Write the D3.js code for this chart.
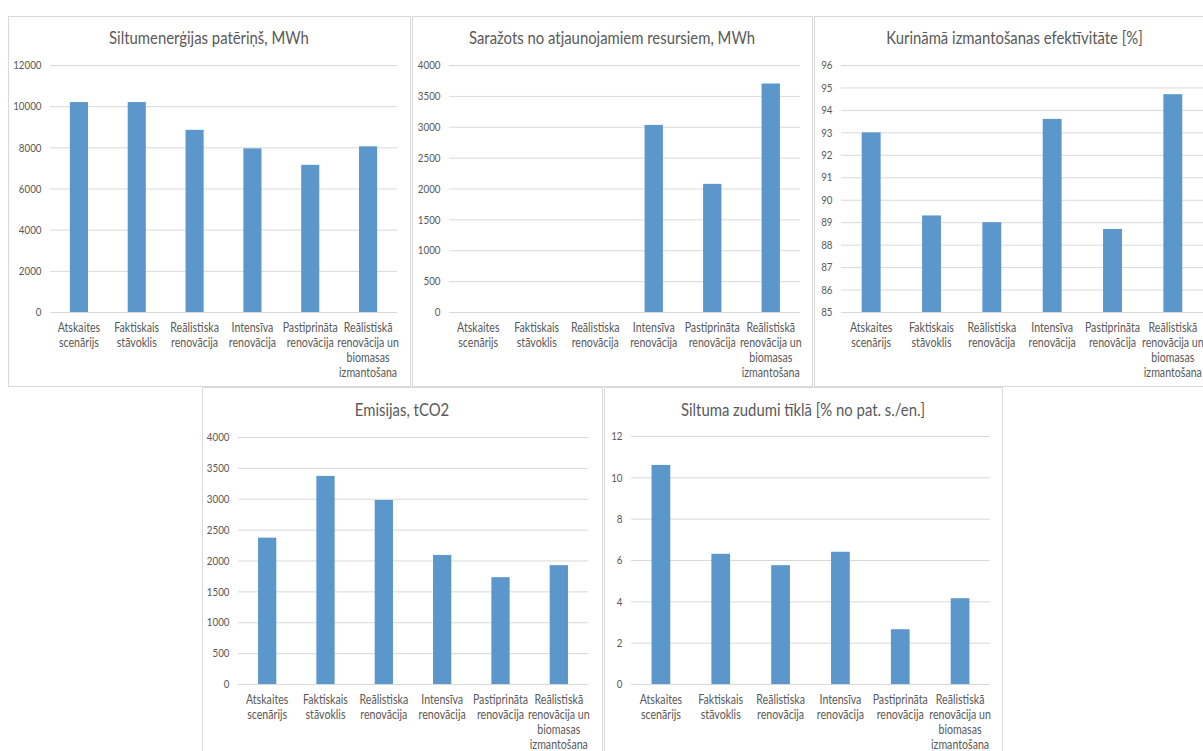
<!DOCTYPE html>
<html>
<head>
<meta charset="utf-8">
<script src="https://cdn.jsdelivr.net/npm/d3@7"></script>
<style>
  html, body { margin: 0; padding: 0; background: #fff; }
  svg { display: block; }
  text { font-family: Lato, "Open Sans", sans-serif; fill: #595959; }
</style>
</head>
<body>
<svg id="chart" width="1203" height="751"></svg>
<script>
// ---- DATA ----
const categories = [
  "Atskaites\nscenārijs",
  "Faktiskais\nstāvoklis",
  "Reālistiska\nrenovācija",
  "Intensīva\nrenovācija",
  "Pastiprināta\nrenovācija",
  "Reālistiskā\nrenovācija un\nbiomasas\nizmantošana"
];
const titles = [
  "Siltumenerģijas patēriņš, MWh",
  "Saražots no atjaunojamiem resursiem, MWh",
  "Kurināmā izmantošanas efektīvitāte [%]",
  "Emisijas, tCO2",
  "Siltuma zudumi tīklā [% no pat. s./en.]"
];
const heatConsumption   = [10200, 10200, 8850, 7950, 7150, 8050];
const renewableProduced = [0, 0, 0, 3030, 2075, 3700];
const fuelEfficiency    = [93.0, 89.3, 89.0, 93.6, 88.7, 94.7];
const emissions         = [2370, 3370, 2980, 2090, 1730, 1925];
const networkLosses     = [10.6, 6.3, 5.75, 6.4, 2.65, 4.15];

const ticksHeat       = [0, 2000, 4000, 6000, 8000, 10000, 12000];
const ticksRenewable  = [0, 500, 1000, 1500, 2000, 2500, 3000, 3500, 4000];
const ticksEfficiency = [85, 86, 87, 88, 89, 90, 91, 92, 93, 94, 95, 96];
const ticksEmissions  = [0, 500, 1000, 1500, 2000, 2500, 3000, 3500, 4000];
const ticksLosses     = [0, 2, 4, 6, 8, 10, 12];

// ---- LAYOUT ----
const svg = d3.select("#chart");
const SX = 0.85; // horizontal text compression (narrow face look)
const panels = [
  { title: titles[0], values: heatConsumption,   ticks: ticksHeat,
    box: [8, 16, 410, 386],   plot: [50, 65, 397, 312], titleY: 44 },
  { title: titles[1], values: renewableProduced, ticks: ticksRenewable,
    box: [412, 16, 812, 386], plot: [449, 65, 800, 312], titleY: 44 },
  { title: titles[2], values: fuelEfficiency,    ticks: ticksEfficiency,
    box: [814, 16, 1215, 386], plot: [841, 65, 1203, 312], titleY: 44 },
  { title: titles[3], values: emissions,         ticks: ticksEmissions,
    box: [202, 387, 602, 760], plot: [238, 437, 588, 684], titleY: 416 },
  { title: titles[4], values: networkLosses,     ticks: ticksLosses,
    box: [604, 387, 1002, 760], plot: [631, 436, 990, 684], titleY: 416 }
];

panels.forEach(p => {
  const [bx0, by0, bx1, by1] = p.box;
  const [px0, py0, px1, py1] = p.plot;
  const g = svg.append("g");

  g.append("rect")
    .attr("x", bx0 + 0.5).attr("y", by0 + 0.5)
    .attr("width", bx1 - bx0).attr("height", by1 - by0)
    .attr("fill", "#fff").attr("stroke", "#d9d9d9").attr("stroke-width", 1);

  g.append("text")
    .attr("transform", `translate(${(bx0 + bx1) / 2},${p.titleY}) scale(${SX},1)`)
    .attr("text-anchor", "middle")
    .style("font-size", "17.5px")
    .text(p.title);

  const x = d3.scaleBand().domain(categories).range([px0, px1])
    .paddingInner(0.687).paddingOuter(0.3435);
  const y = d3.scaleLinear()
    .domain([d3.min(p.ticks), d3.max(p.ticks)])
    .range([py1, py0]);

  // gridlines + y labels
  const yAxis = d3.axisLeft(y).tickValues(p.ticks)
    .tickSize(-(px1 - px0)).tickPadding(0).tickFormat(d3.format("d"));
  const ya = g.append("g").attr("transform", `translate(${px0},0)`).call(yAxis);
  ya.select(".domain").remove();
  ya.selectAll(".tick line").attr("stroke", "#d9d9d9");
  ya.selectAll(".tick text")
    .attr("x", null)
    .attr("transform", `translate(-8.5,0) scale(${SX},1)`)
    .style("font-size", "11.5px").style("fill", "#595959")
    .style("font-family", "Lato, sans-serif");

  // bars
  g.selectAll("rect.bar").data(p.values).enter().append("rect")
    .attr("class", "bar")
    .attr("x", (d, i) => x(categories[i]))
    .attr("width", x.bandwidth())
    .attr("y", d => y(d))
    .attr("height", d => y(d3.min(p.ticks)) - y(d))
    .attr("fill", "#5b97cb");

  // x labels
  const xAxis = d3.axisBottom(x).tickSize(0).tickPadding(0).tickFormat("");
  const xa = g.append("g").attr("transform", `translate(0,${py1})`).call(xAxis);
  xa.select(".domain").remove();
  xa.selectAll(".tick").each(function(d) {
    const t = d3.select(this).append("text")
      .attr("text-anchor", "middle")
      .attr("transform", `scale(${SX},1)`)
      .style("font-size", "12.5px").style("fill", "#595959")
      .style("font-family", "Lato, sans-serif");
    d.split("\n").forEach((line, k) => {
      t.append("tspan").attr("x", 0).attr("y", 20.5 + k * 14.8).text(line);
    });
  });
});
</script>
</body>
</html>
